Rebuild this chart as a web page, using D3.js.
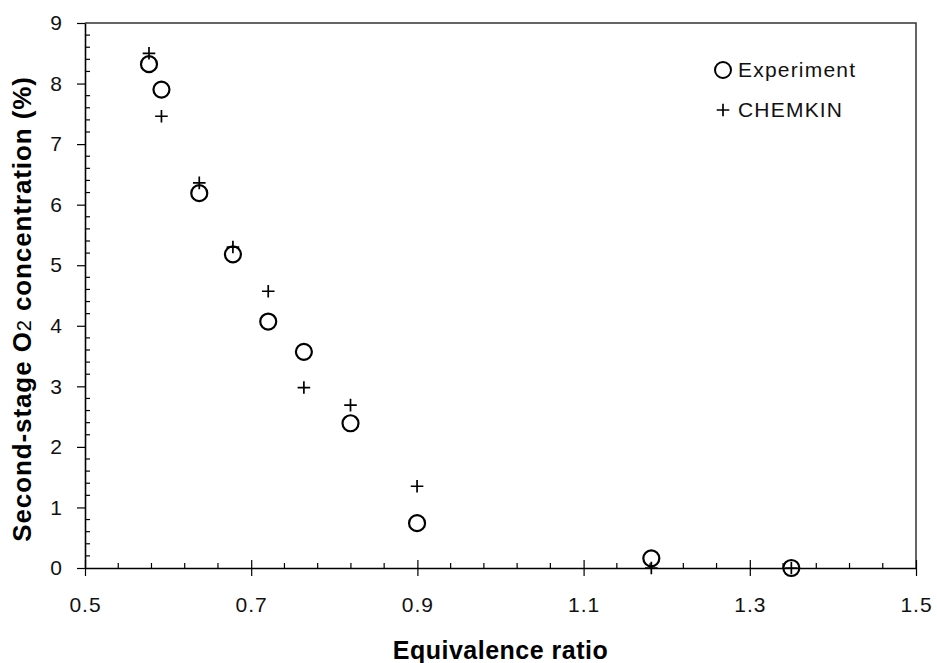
<!DOCTYPE html>
<html>
<head>
<meta charset="utf-8">
<script src="https://cdn.jsdelivr.net/npm/d3@7"></script>
<style>
  body { margin: 0; background: #fff; }
  svg { display: block; font-family: "Liberation Sans", Arial, sans-serif; }
</style>
</head>
<body>
<div id="chart"></div>
<script>
// data
const expPhi = [0.577, 0.592, 0.6375, 0.678, 0.7205, 0.7634, 0.8195, 0.8996, 1.1815, 1.35]
const expO2 = [8.32, 7.90, 6.19, 5.18, 4.07, 3.57, 2.39, 0.74, 0.16, 0.0]
const chemPhi = [0.577, 0.592, 0.6375, 0.678, 0.7205, 0.7634, 0.8195, 0.8996, 1.1815, 1.35]
const chemO2 = [8.50, 7.46, 6.36, 5.30, 4.57, 2.98, 2.69, 1.35, 0.0, 0.0]
const xTicks = [0.5, 0.7, 0.9, 1.1, 1.3, 1.5]
const yTicks = [0, 1, 2, 3, 4, 5, 6, 7, 8, 9]
const legendItems = ["Experiment", "CHEMKIN"]

const canvas = { width: 937, height: 663, margin: { top: 23, bottom: 95, left: 85, right: 21 } }

const svg = d3.select("#chart").append("svg")
  .attr("width", canvas.width).attr("height", canvas.height)

const x = d3.scaleLinear().domain([0.5, 1.5])
  .range([canvas.margin.left, canvas.width - canvas.margin.right])
const y = d3.scaleLinear().domain([0, 9])
  .range([canvas.height - canvas.margin.bottom, canvas.margin.top])

// frame (top and right)
svg.append("path")
  .attr("d", `M${x(0.5)},${y(9)}H${x(1.5)}V${y(0)}`)
  .attr("fill", "none").attr("stroke", "#333").attr("stroke-width", 1.5)

// minor ticks, inside
const xMinor = d3.range(0.5, 1.5001, 0.04).filter(v => Math.abs((v - 0.5) / 0.2 - Math.round((v - 0.5) / 0.2)) > 0.01)
svg.append("g").selectAll("line").data(xMinor).join("line")
  .attr("x1", d => x(d)).attr("x2", d => x(d))
  .attr("y1", y(0)).attr("y2", y(0) - 5)
  .attr("stroke", "#000").attr("stroke-width", 1.2)

const yMinor = d3.range(0, 9.0001, 0.2).filter(v => Math.abs(v - Math.round(v)) > 0.01)
svg.append("g").selectAll("line").data(yMinor).join("line")
  .attr("x1", x(0.5)).attr("x2", x(0.5) + 5)
  .attr("y1", d => y(d)).attr("y2", d => y(d))
  .attr("stroke", "#000").attr("stroke-width", 1.2)

// axes, major ticks cross the line
const xAxis = svg.append("g").attr("transform", `translate(0,${y(0)})`)
  .call(d3.axisBottom(x).tickValues(xTicks).tickFormat(d3.format(".1f")).tickSizeInner(8).tickSizeOuter(0).tickPadding(21))
xAxis.selectAll(".tick line").attr("y1", -8).attr("stroke-width", 1.2)

const yAxis = svg.append("g").attr("transform", `translate(${x(0.5)},0)`)
  .call(d3.axisLeft(y).tickValues(yTicks).tickFormat(d3.format("d")).tickSizeInner(8).tickSizeOuter(0).tickPadding(14))
yAxis.selectAll(".tick line").attr("x1", 0).attr("x2", -8).attr("stroke-width", 1.2)

svg.selectAll(".domain").attr("stroke", "#000").attr("stroke-width", 1.6)
svg.selectAll(".tick text").attr("font-size", 21).attr("fill", "#111")
  .attr("letter-spacing", 1)
  .attr("font-family", "Liberation Sans, Arial, sans-serif")

// titles
svg.append("text")
  .attr("x", (x(0.5) + x(1.5)) / 2).attr("y", 659)
  .attr("text-anchor", "middle").attr("font-size", 25).attr("font-weight", "bold")
  .attr("letter-spacing", 0.5)
  .text("Equivalence ratio")

svg.append("text")
  .attr("transform", `translate(31,309) rotate(-90)`)
  .attr("text-anchor", "middle").attr("font-size", 26).attr("font-weight", "bold")
  .attr("letter-spacing", 0.9)
  .call(t => {
    t.append("tspan").text("Second-stage O")
    t.append("tspan").attr("font-size", 20).attr("font-weight", "normal").text("2")
    t.append("tspan").text(" concentration (%)")
  })

// markers
const expData = expPhi.map((p, i) => ({ p, v: expO2[i] }))
const chemData = chemPhi.map((p, i) => ({ p, v: chemO2[i] }))

svg.append("g").selectAll("circle").data(expData).join("circle")
  .attr("cx", d => x(d.p)).attr("cy", d => y(d.v)).attr("r", 8)
  .attr("fill", "none").attr("stroke", "#000").attr("stroke-width", 2.2)

svg.append("g").selectAll("path").data(chemData).join("path")
  .attr("transform", d => `translate(${x(d.p)},${y(d.v)})`)
  .attr("d", "M-6.3,0H6.3M0,-6.3V6.3")
  .attr("stroke", "#000").attr("stroke-width", 1.7).attr("fill", "none")

// legend
const lg = svg.append("g").attr("transform", "translate(723,70)")
lg.append("circle").attr("r", 8).attr("fill", "none").attr("stroke", "#000").attr("stroke-width", 2)
lg.append("path").attr("transform", "translate(0,40)").attr("d", "M-6.3,0H6.3M0,-6.3V6.3")
  .attr("stroke", "#000").attr("stroke-width", 1.7)
lg.selectAll("text").data(legendItems).join("text")
  .attr("x", 15).attr("y", (d, i) => i * 40 + 7)
  .attr("font-size", 21).attr("fill", "#111").attr("letter-spacing", 1.2)
  .text(d => d)
</script>
</body>
</html>
